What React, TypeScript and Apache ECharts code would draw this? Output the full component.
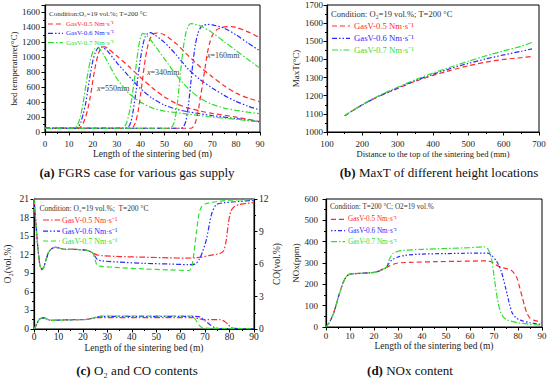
import React, { useEffect, useRef } from "react";
import * as echarts from "echarts";

// ---------- Panel (a): bed temperature vs length, [x(m), T(°C)] ----------
const aRed550 = [[0,50],[14,50],[15,70],[16,120],[17,200],[18,320],[19,480],[20,680],[21,870],[22,1010],[23,1100],[24,1140],[25,1140],[26,1125],[30,1020],[35,880],[40,730],[45,590],[50,470],[55,380],[60,320],[65,280],[70,250],[80,200],[90,140]];
const aBlue550 = [[0,50],[13,50],[14,70],[15,130],[16,240],[17,380],[18,580],[19,780],[20,950],[21,1060],[22,1120],[23,1140],[24,1135],[26,1090],[30,930],[35,750],[40,580],[45,450],[50,360],[55,305],[60,270],[70,220],[80,180],[90,135]];
const aGreen550 = [[0,50],[12,50],[13,65],[14,120],[15,230],[16,400],[17,600],[18,800],[19,960],[20,1070],[21,1120],[22,1130],[23,1110],[25,1010],[30,720],[35,520],[40,400],[45,320],[50,280],[60,240],[70,200],[80,170],[90,135]];
const aRed340 = [[0,50],[36,50],[37,70],[38,140],[39,280],[40,500],[41,750],[42,980],[43,1150],[44,1250],[45,1300],[46,1320],[47,1325],[50,1300],[55,1180],[60,1020],[65,870],[70,740],[75,620],[80,520],[85,455],[90,405]];
const aBlue340 = [[0,50],[34,50],[35,70],[36,140],[37,300],[38,520],[39,760],[40,990],[41,1170],[42,1280],[43,1320],[44,1330],[45,1320],[50,1200],[55,1030],[60,840],[65,700],[70,590],[75,490],[80,410],[85,345],[90,295]];
const aGreen340 = [[0,50],[32,50],[33,65],[34,110],[35,220],[36,380],[37,600],[38,850],[39,1100],[40,1270],[41,1320],[42,1310],[43,1280],[45,1200],[50,980],[55,760],[60,580],[65,450],[70,370],[75,320],[80,290],[85,265],[90,245]];
const aRed160 = [[0,50],[61,50],[62,70],[63,130],[64,260],[65,450],[66,650],[67,860],[68,1060],[69,1200],[70,1290],[72,1370],[74,1400],[76,1410],[78,1410],[80,1400],[85,1340],[90,1260]];
const aBlue160 = [[0,50],[57,50],[58,70],[59,150],[60,350],[61,650],[62,950],[63,1180],[64,1320],[65,1390],[66,1425],[68,1440],[70,1435],[75,1390],[80,1300],[85,1190],[90,1085]];
const aGreen160 = [[0,50],[52,50],[53,65],[54,120],[55,280],[56,560],[57,880],[58,1150],[59,1330],[60,1420],[61,1450],[62,1448],[65,1420],[70,1330],[75,1210],[80,1090],[85,970],[90,855]];

// ---------- Panel (b): MaxT vs distance (mm) ----------
const bX = [150, 200, 250, 300, 350, 400, 450, 500, 550, 600, 650, 680];
const bRed = [1090, 1150, 1200, 1240, 1280, 1312, 1340, 1365, 1385, 1400, 1410, 1416];
const bBlue = [1090, 1150, 1200, 1243, 1283, 1318, 1350, 1378, 1403, 1425, 1445, 1458];
const bGreen = [1090, 1152, 1203, 1247, 1288, 1325, 1358, 1390, 1420, 1447, 1473, 1494];

// ---------- Panel (c): O2 (left) and CO (right) ----------
const cO2Start = [[0,21],[0.5,18.5],[1,16],[1.5,13.5],[2,11.5],[2.5,10.2],[3.3,9.6],[4,10.0],[5,11.3],[6,12.4],[7,12.9],[8,13.15],[9,13.2],[11,13.0],[13,12.85],[17,12.85],[19,12.8],[21,12.75],[22.5,12.6],[24,12.3]];
const cO2Red = [[25,12.1],[26,11.95],[28,11.85],[35,11.7],[45,11.6],[55,11.5],[62,11.45],[66,11.5],[68.5,11.6],[72,11.9],[76,12.2],[77.5,12.6],[78.5,14],[79.5,17],[80.5,19],[82,19.8],[84,20.1],[87,20.3],[90,20.4]];
const cO2Blue = [[25,11.7],[26,11.2],[28,11.0],[35,10.8],[45,10.6],[55,10.5],[63,10.4],[66,10.5],[67.5,11.2],[68.5,12],[70.5,14.4],[72.6,18.5],[74.6,20.1],[78,20.4],[84,20.6],[90,20.8]];
const cO2Green = [[25,11.2],[25.8,10.3],[27,10.15],[35,9.9],[45,9.7],[55,9.55],[63.5,9.45],[64.5,9.9],[65.5,12.5],[66.5,15.8],[67.5,18.6],[68.5,19.7],[70,20.2],[75,20.6],[80,20.8],[90,20.9]];
const cCOStart = [[0,0],[1,0.4],[2,0.85],[3,1.0],[4,1.02],[5,0.95],[6,0.85],[7.5,0.8],[10,0.82],[15,0.85],[20,0.87],[22,0.9],[23.5,0.97],[25,1.05]];
const cCORed = [[26,1.05],[28,1.05],[40,1.05],[60,1.05],[65,1.05],[67.5,0.95],[69,0.87],[76,0.87],[78,0.7],[79.5,0.4],[80.5,0.15],[82,0.07],[90,0.02]];
const cCOBlue = [[26,1.12],[28,1.16],[40,1.17],[60,1.17],[66,1.17],[68,1.1],[70,0.75],[72,0.4],[74,0.12],[76,0.05],[90,0.02]];
const cCOGreen = [[26,1.15],[28,1.2],[40,1.2],[60,1.2],[64.5,1.2],[66,0.9],[67.5,0.35],[69,0.12],[72,0.07],[90,0.02]];

// ---------- Panel (d): NOx ----------
const dStart = [[0,0],[1,15],[2,35],[3,60],[4,95],[5,135],[6,170],[7,205],[8,228],[9,242],[10,248],[12,250],[15,252],[18,254],[20,256],[22,262],[23.5,270],[25,278]];
const dRed = [[26,284],[28,294],[30,300],[35,303],[45,306],[55,308],[67,310],[69,305],[71,290],[73,280],[75,274],[77,267],[78.5,250],[79.6,229],[80.7,185],[81.7,143],[82.7,100],[83.7,65],[85,42],[86.5,32],[88.5,26],[90,22]];
const dBlue = [[26,295],[27.5,315],[30,328],[33,336],[40,342],[50,344],[60,346],[67.5,346],[69,335],[71,310],[73,262],[75,175],[76.5,105],[77.5,68],[79,45],[81,32],[85,20],[90,12]];
const dGreen = [[25.5,290],[26.5,320],[28,346],[30,355],[32,359],[40,364],[50,368],[60,372],[66,376],[67.5,365],[68.5,340],[69.2,307],[70,240],[70.8,175],[71.8,110],[72.8,68],[74,45],[75.5,33],[80,20],[85,13],[90,8]];

const legendNames = ["GasV-0.5 Nm·s⁻¹", "GasV-0.6 Nm·s⁻¹", "GasV-0.7 Nm·s⁻¹"];

const RED = "#ff2a2a";
const BLUE = "#2a2aff";
const GREEN = "#2ee02e";
const DASH = [5, 3];
const DASHDOT = [6, 2, 1.5, 2];
const DASHDOTDOT = [5, 2, 1.5, 2, 1.5, 2];
const DOTDOTDASH = [1.5, 2, 1.5, 2, 4, 2];
const FONT = '"Liberation Serif", "Times New Roman", serif';

function line(name: string, data: any, color: string, dash: number[], xi: number, yi: number) {
  return {
    type: "line",
    name,
    data,
    xAxisIndex: xi,
    yAxisIndex: yi,
    showSymbol: false,
    symbol: "none",
    smooth: 0.25,
    lineStyle: { color, width: 1.2, type: dash },
    itemStyle: { color },
    silent: true,
  };
}

const plain = (v: number) => String(v);

function xAxis(gi: number, min: number, max: number, interval: number, name: string, nameGap: number, margin: number, fs: number, nfs: number) {
  return {
    type: "value",
    gridIndex: gi,
    min,
    max,
    interval,
    name,
    nameLocation: "middle",
    nameGap,
    nameTextStyle: { fontFamily: FONT, fontSize: nfs, color: "#222" },
    axisLine: { show: true, onZero: false, lineStyle: { color: "#000", width: 1.2 } },
    axisTick: { show: true, length: 3.5, lineStyle: { color: "#000", width: 1 } },
    minorTick: { show: true, splitNumber: 2, length: 2, lineStyle: { color: "#000", width: 1 } },
    splitLine: { show: false },
    axisLabel: { fontFamily: FONT, fontSize: fs, color: "#222", margin, formatter: plain },
  };
}

function yAxis(gi: number, min: number, max: number, interval: number, name: string, nameGap: number, margin: number, fs: number, nfs: number, position = "left", showMax = true) {
  return {
    type: "value",
    gridIndex: gi,
    position,
    min,
    max,
    interval,
    name,
    nameLocation: "middle",
    nameRotate: 90,
    nameGap,
    nameTextStyle: { fontFamily: FONT, fontSize: nfs, color: "#222" },
    axisLine: { show: true, onZero: false, lineStyle: { color: "#000", width: 1.2 } },
    axisTick: { show: true, length: 3.5, lineStyle: { color: "#000", width: 1 } },
    minorTick: { show: true, splitNumber: 2, length: 2, lineStyle: { color: "#000", width: 1 } },
    splitLine: { show: false },
    axisLabel: { fontFamily: FONT, fontSize: fs, color: "#222", margin, showMaxLabel: showMax, formatter: plain },
  };
}

function legendBlock(cond: string, cx: number, cy: number, cfs: number, lx1: number, lx2: number, tx: number, rows: number[], fs: number, dashes: number[][]) {
  const colors = [RED, BLUE, GREEN];
  const els: any[] = [
    { type: "text", x: cx, y: cy, style: { text: cond, fill: "#333", fontFamily: FONT, fontSize: cfs, verticalAlign: "middle", align: "left" } },
  ];
  rows.forEach((ry, i) => {
    els.push({ type: "line", shape: { x1: lx1, y1: ry, x2: lx2, y2: ry }, style: { stroke: colors[i], lineWidth: 1.2, lineDash: dashes[i] } });
    els.push({ type: "text", x: tx, y: ry, style: { text: legendNames[i], fill: colors[i], fontFamily: FONT, fontSize: fs, verticalAlign: "middle", align: "left" } });
  });
  return els;
}

function caption(letter: string, rest: string, cx: number, cy: number) {
  return {
    type: "text",
    x: cx,
    y: cy,
    style: {
      text: `{b|(${letter})}{n| ${rest}}`,
      align: "center",
      verticalAlign: "middle",
      fontFamily: FONT,
      fontSize: 13,
      fill: "#111",
      rich: {
        b: { fontFamily: FONT, fontSize: 13, fontWeight: "bold", fill: "#111" },
        n: { fontFamily: FONT, fontSize: 13, fill: "#111" },
      },
    },
  };
}

function posLabel(val: string, x: number, y: number) {
  return {
    type: "text",
    x,
    y,
    style: {
      text: `{i|x}{n|=${val}}`,
      verticalAlign: "middle",
      align: "left",
      rich: {
        i: { fontFamily: FONT, fontSize: 8, fontStyle: "italic", fill: "#444" },
        n: { fontFamily: FONT, fontSize: 8, fill: "#444" },
      },
    },
  };
}

export default function App() {
  const ref = useRef<HTMLDivElement>(null);
  useEffect(() => {
    if (!ref.current) return;
    const chart = echarts.init(ref.current, null, { renderer: "svg" });
    const grid = { show: true, borderColor: "#000", borderWidth: 1, containLabel: false };
    const option: any = {
      animation: false,
      backgroundColor: "#fff",
      grid: [
        { ...grid, left: 45, top: 5, width: 215, height: 127 },
        { ...grid, left: 327, top: 5, width: 212, height: 127 },
        { ...grid, left: 34, top: 199, width: 220, height: 130 },
        { ...grid, left: 326, top: 199, width: 216, height: 128 },
      ],
      xAxis: [
        xAxis(0, 0, 90, 10, "Length of the sintering bed (m)", 17, 7, 9, 9.5),
        xAxis(1, 100, 700, 100, "Distance to the top of the sintering bed (mm)", 17, 7, 9, 8.5),
        xAxis(2, 0, 90, 10, "Length of the sintering bed (m)", 10, 3, 9.5, 9.5),
        xAxis(3, 0, 90, 10, "Length of the sintering bed (m)", 12, 4, 9, 9.5),
      ],
      yAxis: [
        yAxis(0, 0, 1700, 200, "bed temperature(°C)", 26, 5, 9, 9, "left", false),
        yAxis(1, 1000, 1700, 100, "MaxT(°C)", 27, 4, 9, 9),
        yAxis(2, 0, 21, 3, "O₂(vol.%)", 21, 5, 9.5, 9.5),
        yAxis(2, 0, 12, 3, "CO(vol.%)", 16, 5, 9.5, 9.5, "right"),
        yAxis(3, 0, 600, 100, "NOx(ppm)", 26, 8, 9, 9),
      ],
      series: [
        line(legendNames[0], aRed550, RED, DASH, 0, 0),
        line(legendNames[1], aBlue550, BLUE, DASHDOTDOT, 0, 0),
        line(legendNames[2], aGreen550, GREEN, DASHDOT, 0, 0),
        line(legendNames[0], aRed340, RED, DASH, 0, 0),
        line(legendNames[1], aBlue340, BLUE, DASHDOTDOT, 0, 0),
        line(legendNames[2], aGreen340, GREEN, DASHDOT, 0, 0),
        line(legendNames[0], aRed160, RED, DASH, 0, 0),
        line(legendNames[1], aBlue160, BLUE, DASHDOTDOT, 0, 0),
        line(legendNames[2], aGreen160, GREEN, DASHDOT, 0, 0),

        line(legendNames[0], bX.map((x, i) => [x, bRed[i]]), RED, DASH, 1, 1),
        line(legendNames[1], bX.map((x, i) => [x, bBlue[i]]), BLUE, DASHDOTDOT, 1, 1),
        line(legendNames[2], bX.map((x, i) => [x, bGreen[i]]), GREEN, DASHDOT, 1, 1),

        line(legendNames[0], cO2Start.concat(cO2Red), RED, DASHDOT, 2, 2),
        line(legendNames[1], cO2Start.concat(cO2Blue), BLUE, DASHDOTDOT, 2, 2),
        line(legendNames[2], cO2Start.concat(cO2Green), GREEN, DASH, 2, 2),
        line(legendNames[0], cCOStart.concat(cCORed), RED, DASHDOT, 2, 3),
        line(legendNames[1], cCOStart.concat(cCOBlue), BLUE, DASHDOTDOT, 2, 3),
        line(legendNames[2], cCOStart.concat(cCOGreen), GREEN, DASH, 2, 3),

        line(legendNames[0], dStart.concat(dRed), RED, DASH, 3, 4),
        line(legendNames[1], dStart.concat(dBlue), BLUE, DOTDOTDASH, 3, 4),
        line(legendNames[2], dStart.concat(dGreen), GREEN, DASHDOT, 3, 4),
      ],
      graphic: [
        ...legendBlock("Condition:O₂=19 vol.%; T=200 °C", 49, 13.5, 7, 48, 63, 66, [24, 33.3, 42.7], 7, [DASH, DASHDOTDOT, DASHDOT]),
        ...legendBlock("Condition: O₂=19 vol.%; T=200 °C", 331, 14, 8.5, 332, 350, 354, [26, 38.3, 50], 8.7, [DASH, DASHDOTDOT, DASHDOT]),
        ...legendBlock("Condition: O₂=19 vol.%;  T=200 °C", 39.5, 208.3, 7.5, 43, 60, 62, [220, 231.2, 241], 8, [DASHDOT, DASHDOTDOT, DASH]),
        ...legendBlock("Condition: T=200 °C; O2=19 vol.%", 330, 207.3, 7.2, 331, 345, 348, [219.3, 230.7, 241.7], 7.2, [DASH, DOTDOTDASH, DASHDOT]),
        posLabel("550mm", 97, 88),
        posLabel("340mm", 147, 72),
        posLabel("160mm", 207, 55),
        caption("a", "FGRS case for various gas supply", 137, 172),
        caption("b", "MaxT of different height locations", 439, 172),
        caption("c", "O₂ and CO contents", 137, 370),
        caption("d", "NOx content", 410, 370),
      ],
    };
    chart.setOption(option);
    return () => chart.dispose();
  }, []);
  return <div ref={ref} style={{ position: "absolute", left: 0, top: 0, width: 550, height: 380 }} />;
}
